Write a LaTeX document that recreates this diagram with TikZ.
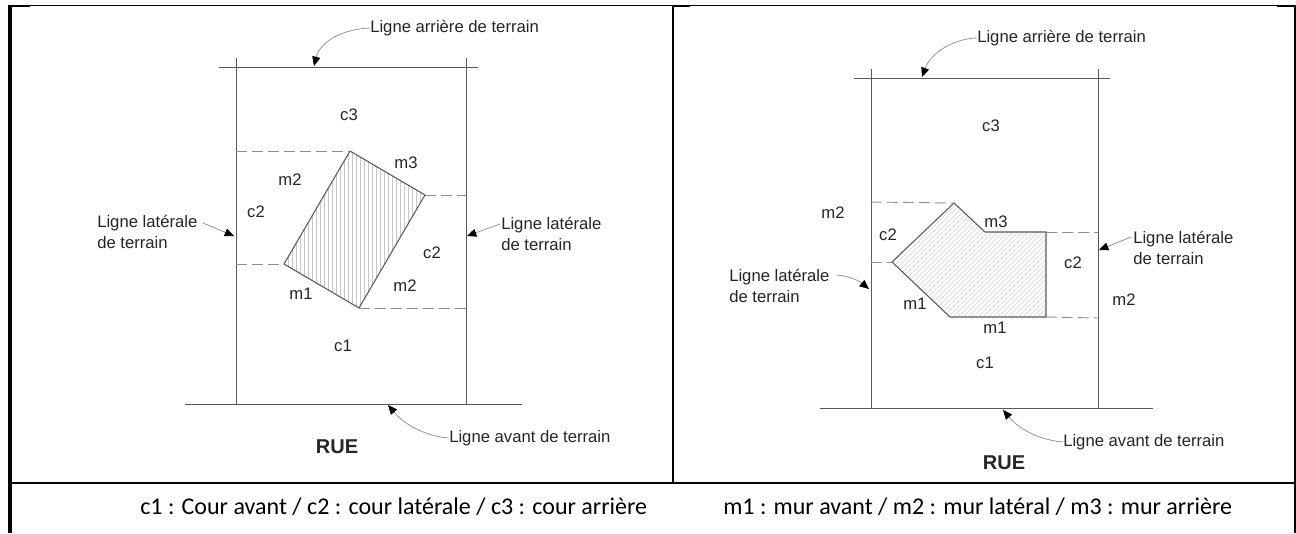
\documentclass[tikz,border=0pt]{standalone}
\usepackage{fontspec}
\setmainfont{Liberation Sans}
\newfontfamily\capfont{Carlito}
\usetikzlibrary{arrows.meta}
\definecolor{ln}{HTML}{5A5A5A}
\definecolor{dsh}{HTML}{8F8F8F}
\definecolor{hat}{HTML}{C8C8C8}
\definecolor{hatb}{HTML}{D4D4D4}
\tikzset{
  plan/.style={draw=ln,line width=0.6pt},
  frameline/.style={draw=black,line width=1.5pt},
  framethick/.style={draw=black,line width=3pt},
  framethin/.style={draw=black,line width=0.75pt},
  tie/.style={draw=dsh,line width=0.7pt,dash pattern=on 8pt off 4pt},
  wall/.style={draw=ln,line width=0.8pt},
  lbl/.style={font=\fontsize{12.5pt}{15.6pt}\selectfont,text=black!85,inner sep=0pt,align=left},
  ruelbl/.style={lbl,font=\fontsize{15pt}{17pt}\selectfont\bfseries},
  pointer/.style={draw=dsh,line width=0.55pt,-{Triangle[length=7pt,width=6pt,color=black,fill=black]}},
  caption/.style={font=\capfont\fontsize{18pt}{20pt}\selectfont,inner sep=0pt,anchor=base west},
}
\begin{document}
\begin{tikzpicture}[x=0.75pt,y=-0.75pt]
\useasboundingbox (0,0) rectangle (1296,533);
\fill[white] (0,0) rectangle (1296,533);
% frame
\draw[framethin] (8,5.5) -- (1296,5.5);
\draw[frameline] (8,6) -- (30,6);
\draw[frameline] (673,6) -- (690,6);
\draw[frameline] (1277,6) -- (1296,6);
\draw[framethick] (10,5) -- (10,533);
\draw[frameline] (10,482.5) -- (1296,482.5);
\draw[frameline] (673,5) -- (673,482);
\draw[frameline] (1295,5) -- (1295,533);
% left panel
\coordinate (LA) at (350,151); \coordinate (LB) at (425,195);
\coordinate (LC) at (359,308); \coordinate (LD) at (284,264);
\begin{scope}
 \clip (LA)--(LB)--(LC)--(LD)--cycle;
 \foreach \x in {284,288,...,428}{\draw[hat,line width=0.45pt] (\x,145)--(\x,312);}
\end{scope}
\draw[plan] (219,67)--(478,67);
\draw[plan] (236,58)--(236,404);
\draw[plan] (466,58)--(466,404);
\draw[plan] (185,404)--(522,404);
\draw[wall] (LA)--(LB)--(LC)--(LD)--cycle;
\coordinate (LwA) at (236,151); \coordinate (LeB) at (466,195);
\coordinate (LwD) at (236,264); \coordinate (LeC) at (466,308);
\draw[tie] (LwA)--(LA); \draw[tie] (LB)--(LeB);
\draw[tie] (LwD)--(LD); \draw[tie] (LC)--(LeC);
\node[lbl] (l1) at (349,115) {c3};
\node[lbl] (l2) at (406,163) {m3};
\node[lbl] (l3) at (290,180) {m2};
\node[lbl] (l4) at (256,212) {c2};
\node[lbl] (l5) at (432,253) {c2};
\node[lbl] (l6) at (405,286) {m2};
\node[lbl] (l7) at (301,294) {m1};
\node[lbl] (l8) at (343,346) {c1};
\node[ruelbl] (rueL) at (337,447) {RUE};
\node[lbl,anchor=west] (tL) at (370,28) {Ligne arrière de terrain};
\node[lbl,anchor=west] (sL1) at (97,232) {Ligne latérale\\de terrain};
\node[lbl,anchor=west] (sL2) at (501,234) {Ligne latérale\\de terrain};
\node[lbl,anchor=west] (aL) at (449,438) {Ligne avant de terrain};
\coordinate (tLt) at (314,66); \coordinate (sL1t) at (234,236);
\coordinate (sL2t) at (467,236); \coordinate (aLt) at (388,405);
\coordinate (sL1s) at (203,223); \coordinate (sL2s) at (500,224);
\draw[pointer] (tL.west) .. controls (342,29) and (320,42) .. (tLt);
\draw[pointer] (sL1s) -- (sL1t);
\draw[pointer] (sL2s) -- (sL2t);
\draw[pointer] (aL.west) .. controls (425,436) and (405,425) .. (aLt);
% right panel
\coordinate (RA) at (954,203); \coordinate (RB) at (985,232);
\coordinate (RC) at (1046,232); \coordinate (RD) at (1046,317);
\coordinate (RE) at (950,317); \coordinate (RF) at (892,262);
\begin{scope}
 \clip (RA)--(RB)--(RC)--(RD)--(RE)--(RF)--cycle;
 \foreach \x in {880,885,...,1180}{\draw[hatb,line width=0.45pt] (\x,195)--(\x-130,325);}
\end{scope}
\draw[plan] (854,78)--(1110,78);
\draw[plan] (871,69)--(871,408);
\draw[plan] (1098,69)--(1098,408);
\draw[plan] (820,408)--(1153,408);
\draw[wall] (RA)--(RB)--(RC)--(RD)--(RE)--(RF)--cycle;
\coordinate (RwA) at (871,202); \coordinate (ReC) at (1098,232);
\coordinate (RwF) at (871,262); \coordinate (ReD) at (1098,318);
\draw[tie] (RwA)--(RA); \draw[tie] (RC)--(ReC);
\draw[tie] (RwF)--(RF); \draw[tie] (RD)--(ReD);
\node[lbl] (r1) at (991,126) {c3};
\node[lbl] (r2) at (996,222) {m3};
\node[lbl] (r3) at (833,213) {m2};
\node[lbl] (r4) at (888,235) {c2};
\node[lbl] (r5) at (1073,263) {c2};
\node[lbl] (r6) at (1124,300) {m2};
\node[lbl] (r7) at (915,304) {m1};
\node[lbl] (r8) at (995,328) {m1};
\node[lbl] (r9) at (985,363) {c1};
\node[ruelbl] (rueR) at (1004,463) {RUE};
\node[lbl,anchor=west] (tR) at (977,38) {Ligne arrière de terrain};
\node[lbl,anchor=west] (sR1) at (1133,248) {Ligne latérale\\de terrain};
\node[lbl,anchor=west] (sR2) at (729,286) {Ligne latérale\\de terrain};
\node[lbl,anchor=west] (aR) at (1063,442) {Ligne avant de terrain};
\coordinate (tRt) at (922,77); \coordinate (sR1t) at (1099,250);
\coordinate (sR2t) at (869,289); \coordinate (aRt) at (1003,410);
\coordinate (sR1s) at (1131,237); \coordinate (sR2s) at (837,275);
\draw[pointer] (tR.west) .. controls (950,39) and (930,55) .. (tRt);
\draw[pointer] (sR1s) -- (sR1t);
\draw[pointer] (sR2s) .. controls (848,276) and (858,280) .. (sR2t);
\draw[pointer] (aR.west) .. controls (1040,440) and (1020,430) .. (aRt);
% captions
\node[caption] (capL) at (140,514) {c1 : Cour avant / c2 : cour latérale / c3 : cour arrière};
\node[caption] (capR) at (723,514) {m1 : mur avant / m2 : mur latéral / m3 : mur arrière};
\end{tikzpicture}
\end{document}
